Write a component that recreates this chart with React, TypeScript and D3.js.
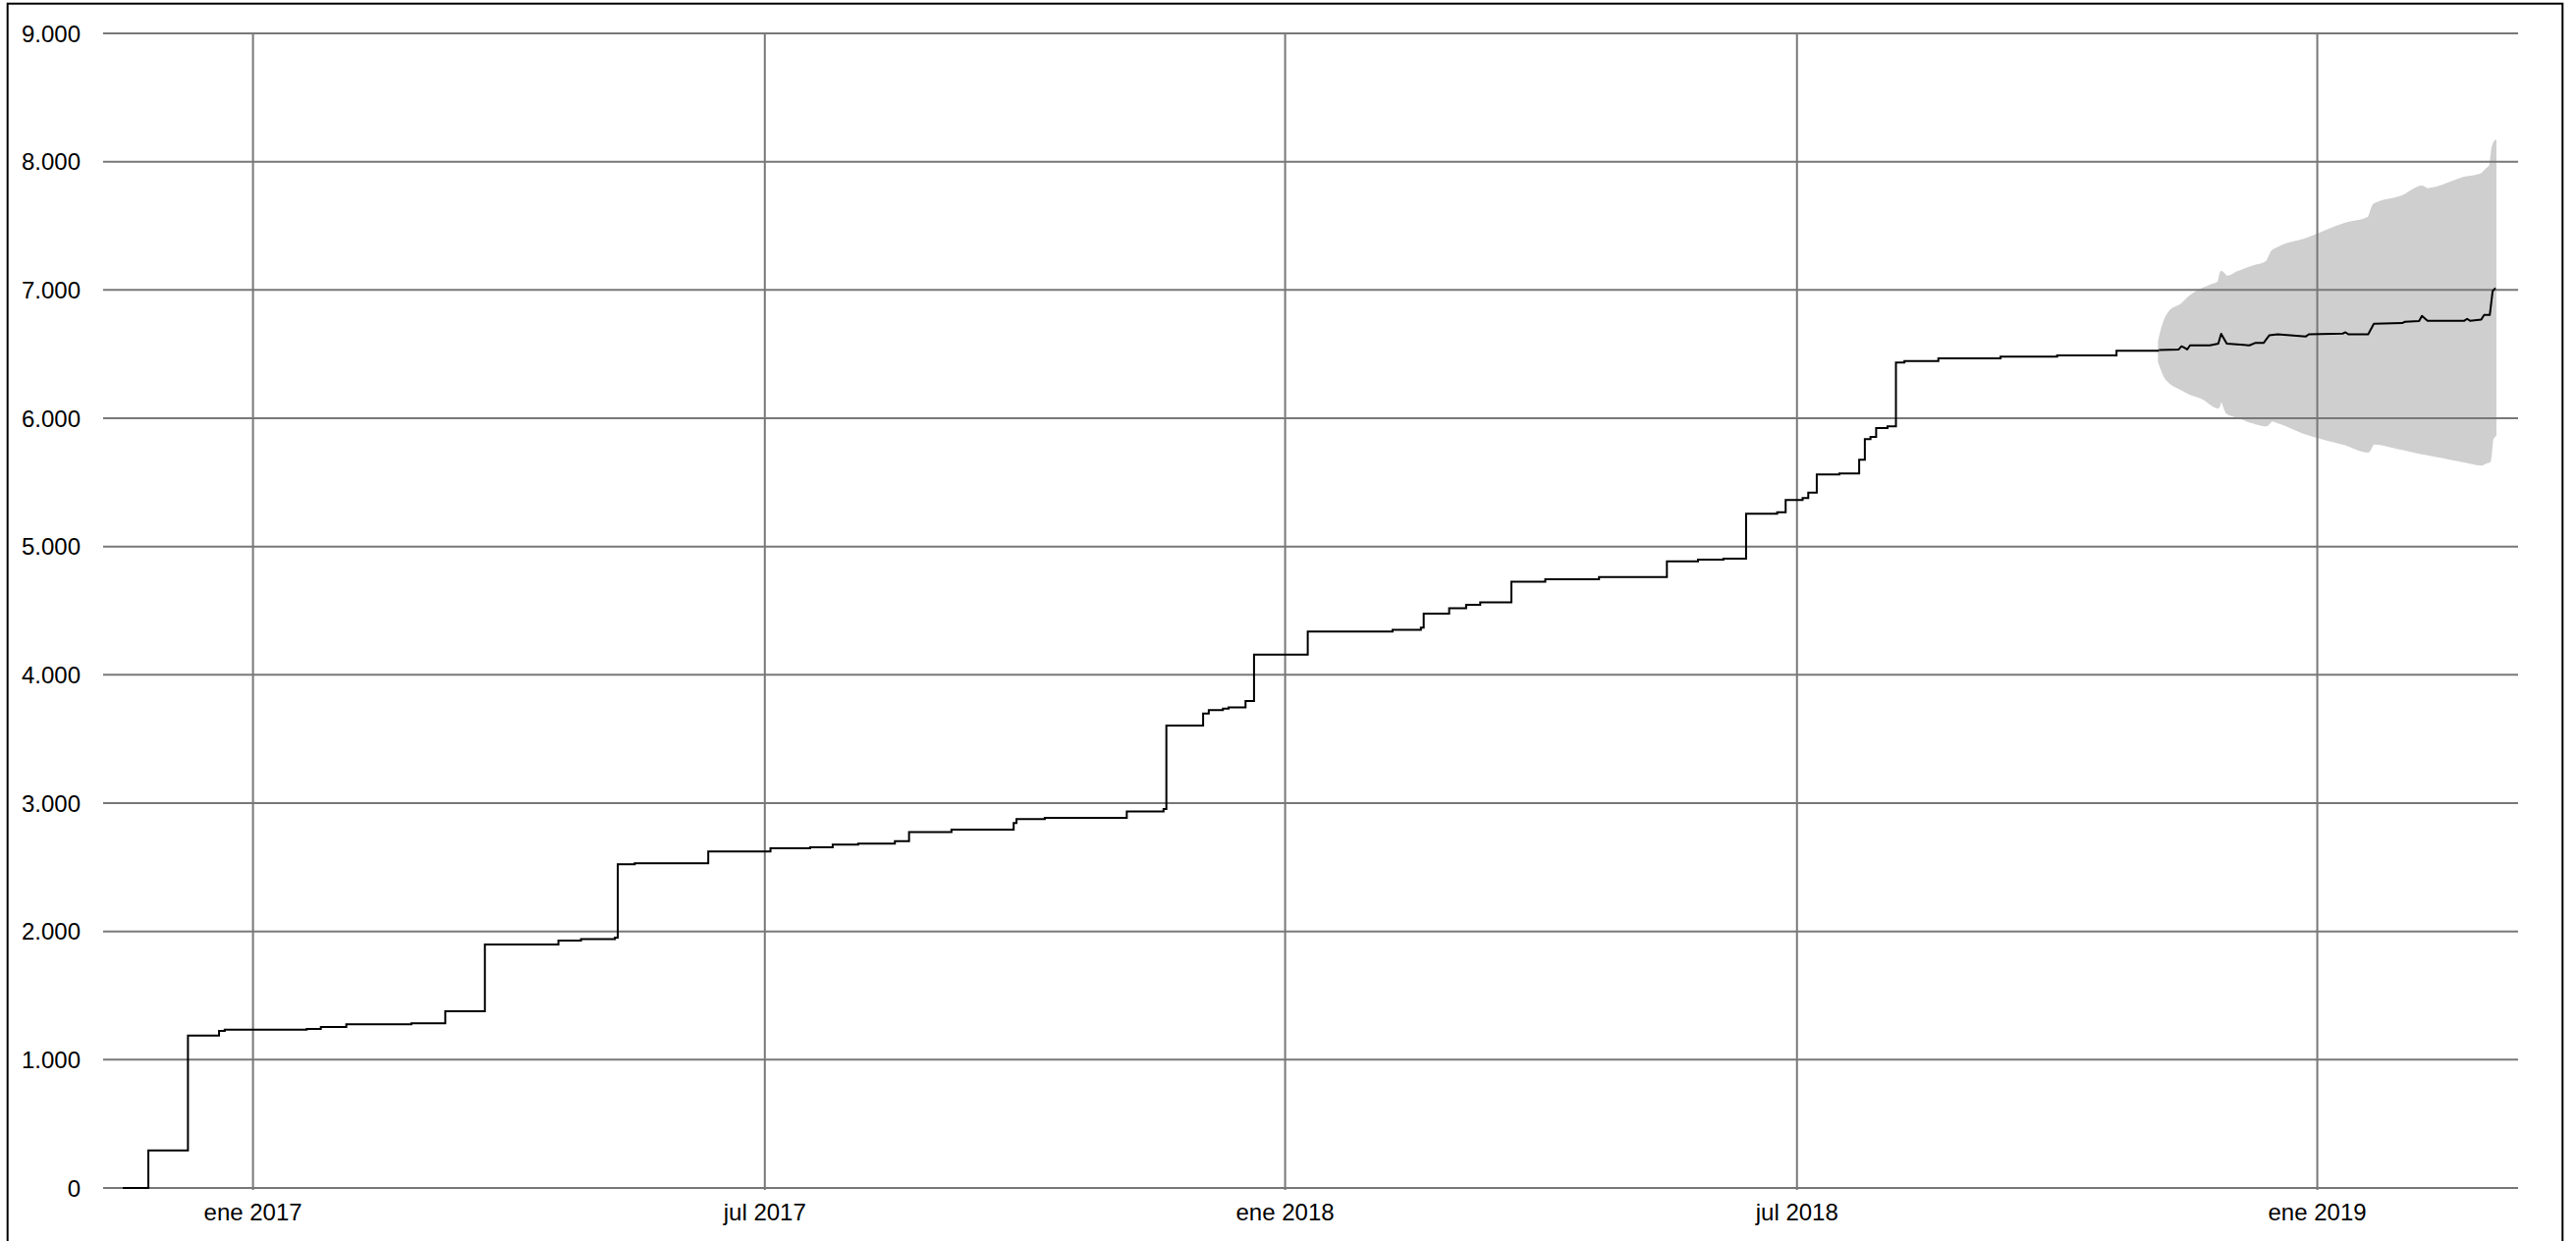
import React from 'react';
import * as d3 from 'd3';

const xDomain = ['2016-11-09', '2019-03-13'];
const yTicks = [0, 1000, 2000, 3000, 4000, 5000, 6000, 7000, 8000, 9000];
const xTickDates = ['2017-01-01', '2017-07-01', '2018-01-01', '2018-07-01', '2019-01-01'];
const xTickLabels = ['ene 2017', 'jul 2017', 'ene 2018', 'jul 2018', 'ene 2019'];

const obsDates = ['2016-11-16','2016-11-25','2016-12-09','2016-12-20','2016-12-22','2017-01-20','2017-01-25','2017-02-03','2017-02-26','2017-03-10','2017-03-24','2017-04-19','2017-04-27','2017-05-09','2017-05-10','2017-05-16','2017-06-11','2017-07-03','2017-07-17','2017-07-25','2017-08-03','2017-08-16','2017-08-21','2017-09-05','2017-09-27','2017-09-28','2017-10-08','2017-11-06','2017-11-19','2017-11-20','2017-12-03','2017-12-05','2017-12-10','2017-12-12','2017-12-18','2017-12-21','2018-01-09','2018-02-08','2018-02-18','2018-02-19','2018-02-28','2018-03-06','2018-03-11','2018-03-22','2018-04-03','2018-04-22','2018-05-16','2018-05-27','2018-06-05','2018-06-13','2018-06-24','2018-06-27','2018-07-03','2018-07-05','2018-07-08','2018-07-16','2018-07-23','2018-07-25','2018-07-27','2018-07-29','2018-08-02','2018-08-05','2018-08-08','2018-08-20','2018-09-11','2018-10-01','2018-10-22','2018-11-06'];
const obsValues = [0,293,1189,1224,1234,1240,1255,1276,1283,1378,1898,1929,1941,1951,2523,2531,2623,2648,2655,2676,2684,2704,2774,2794,2845,2876,2885,2934,2954,3604,3699,3725,3736,3747,3796,4158,4337,4350,4368,4477,4520,4546,4566,4726,4744,4762,4884,4898,4905,5255,5268,5363,5378,5421,5562,5570,5677,5838,5855,5924,5936,6435,6445,6467,6480,6490,6526,6526];

const fcDates = ['2018-11-06','2018-11-13','2018-11-14','2018-11-15','2018-11-16','2018-11-17','2018-11-24','2018-11-27','2018-11-28','2018-11-30','2018-12-08','2018-12-10','2018-12-13','2018-12-15','2018-12-18','2018-12-28','2018-12-29','2019-01-10','2019-01-11','2019-01-12','2019-01-19','2019-01-21','2019-01-31','2019-02-01','2019-02-06','2019-02-07','2019-02-09','2019-02-22','2019-02-23','2019-02-24','2019-02-28','2019-03-01','2019-03-03','2019-03-04','2019-03-05'];
const fcValues = [6531,6536,6561,6550,6536,6568,6568,6581,6658,6581,6568,6587,6587,6646,6654,6638,6654,6660,6670,6654,6654,6736,6742,6752,6758,6798,6760,6760,6775,6760,6770,6805,6805,6990,7015];

const bandDates = ['2018-11-06','2018-11-07','2018-11-08','2018-11-10','2018-11-14','2018-11-17','2018-11-22','2018-11-25','2018-11-27','2018-11-28','2018-11-30','2018-12-04','2018-12-09','2018-12-14','2018-12-16','2018-12-18','2018-12-28','2019-01-11','2019-01-19','2019-01-21','2019-01-31','2019-02-07','2019-02-09','2019-02-22','2019-02-28','2019-03-02','2019-03-03','2019-03-04','2019-03-05'];
const bandUpper = [6600,6690,6760,6837,6888,6951,7015,7041,7060,7143,7104,7140,7181,7219,7301,7327,7398,7518,7563,7666,7730,7806,7786,7875,7903,7946,7964,8112,8163];
const bandLower = [6440,6380,6327,6276,6225,6190,6148,6100,6084,6135,6043,6008,5969,5944,5982,5969,5880,5796,5740,5803,5760,5727,5719,5663,5638,5658,5663,5841,5867];

const W = 2623;
const H = 1264;
const plotLeft = 105;
const plotRight = 2564;
const plotTop = 34;
const plotBottom = 1210;
const FONT = '"Liberation Sans", Arial, Helvetica, sans-serif';
const GRID = '#787878';

const parse = d3.utcParse('%Y-%m-%d');

export default function App() {
  const x = d3.scaleUtc().domain(xDomain.map((d) => parse(d) as Date)).range([plotLeft, plotRight]);
  const y = d3.scaleLinear().domain([0, 9000]).range([plotBottom, plotTop]);

  const obs = obsDates.map((d, i) => ({ t: parse(d) as Date, v: obsValues[i] }));
  const fc = fcDates.map((d, i) => ({ t: parse(d) as Date, v: fcValues[i] }));
  const band = bandDates.map((d, i) => ({ t: parse(d) as Date, hi: bandUpper[i], lo: bandLower[i] }));

  const stepLine = d3
    .line<{ t: Date; v: number }>()
    .x((d) => x(d.t))
    .y((d) => y(d.v))
    .curve(d3.curveStepAfter);
  const fcLine = d3
    .line<{ t: Date; v: number }>()
    .x((d) => x(d.t))
    .y((d) => y(d.v));
  const area = d3
    .area<{ t: Date; hi: number; lo: number }>()
    .x((d) => x(d.t))
    .y0((d) => y(d.lo))
    .y1((d) => y(d.hi))
    .curve(d3.curveMonotoneX);

  return (
    <svg
      width={W}
      height={H}
      style={{ position: 'absolute', left: 0, top: 0, background: '#fff' }}
    >
      <rect x={0} y={0} width={W} height={H} fill="#fff" />
      <path d={area(band) || ''} fill="#cfcfcf" stroke="#cfcfcf" strokeWidth={2} strokeLinejoin="round" />
      {yTicks.map((t) => (
        <line key={'h' + t} x1={plotLeft} x2={plotRight} y1={y(t)} y2={y(t)} stroke={GRID} strokeWidth={2} />
      ))}
      {xTickDates.map((d) => {
        const px = x(parse(d) as Date);
        return <line key={'v' + d} x1={px} x2={px} y1={plotTop - 1} y2={plotBottom + 2} stroke={GRID} strokeWidth={2} />;
      })}
      {yTicks.map((t) => (
        <text
          key={'yl' + t}
          x={82}
          y={y(t) + 8.6}
          textAnchor="end"
          fontFamily={FONT}
          fontSize={24}
          fill="#000"
        >
          {d3.format(',')(t).replace(/,/g, '.')}
        </text>
      ))}
      {xTickDates.map((d, i) => (
        <text
          key={'xl' + d}
          x={x(parse(d) as Date)}
          y={1243}
          textAnchor="middle"
          fontFamily={FONT}
          fontSize={24}
          fill="#000"
        >
          {xTickLabels[i]}
        </text>
      ))}
      <path d={stepLine(obs) || ''} fill="none" stroke="#000" strokeWidth={2} />
      <path d={fcLine(fc) || ''} fill="none" stroke="#000" strokeWidth={2} strokeLinejoin="round" />
      <rect x={7.7} y={3.7} width={2601.6} height={1300} fill="none" stroke="#000" strokeWidth={2} />
    </svg>
  );
}
